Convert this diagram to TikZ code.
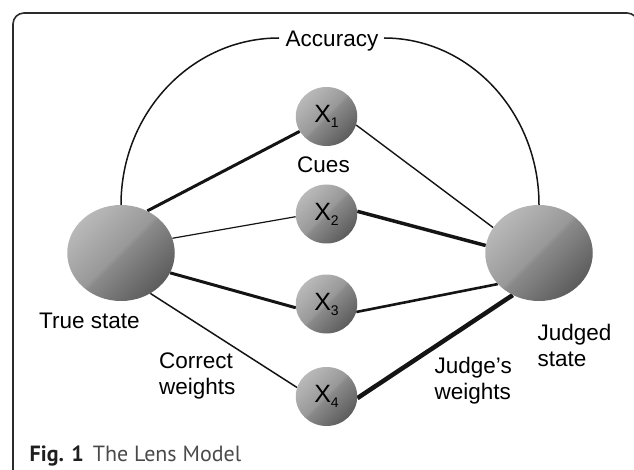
\documentclass[tikz,border=0pt]{standalone}
\usepackage{fontspec}
\setmainfont{Liberation Sans}
\newfontfamily\capfont{PT Sans}
\usetikzlibrary{shapes.geometric}
\definecolor{sA}{HTML}{B9B9B9}
\definecolor{sB}{HTML}{989898}
\definecolor{sC}{HTML}{8A8A8A}
\definecolor{sD}{HTML}{5C5C5C}
\definecolor{framecol}{HTML}{2B2B2B}
\definecolor{capgray}{HTML}{4A4A4A}
\pgfdeclarehorizontalshading{sphereshade}{100bp}{color(0bp)=(sA); color(25bp)=(sA); color(49bp)=(sB); color(51bp)=(sC); color(75bp)=(sD); color(100bp)=(sD)}
\pgfdeclarelayer{bg}
\pgfsetlayers{bg,main}
\newcommand{\sbs}[1]{\raisebox{-5pt}{\fontsize{14}{14}\selectfont #1}}
\tikzset{
  bigball/.style={ellipse, minimum width=107.5pt, minimum height=96pt, inner sep=0pt, shading=sphereshade, shading angle=-45},
  cueball/.style={ellipse, minimum width=61.5pt, minimum height=59pt, inner sep=0pt, shading=sphereshade, shading angle=-45, font=\fontsize{25}{25}\selectfont},
  lbl/.style={font=\fontsize{22.5}{26}\selectfont, inner sep=0pt},
  edgeline/.style={draw=black!92},
}
\begin{document}
\begin{tikzpicture}[x=1pt,y=-1pt]
\useasboundingbox (0,0) rectangle (634,470);
\clip (0,0) rectangle (634,470);
% frame
\draw[framecol, line width=1.6pt, rounded corners=11pt] (13,490) -- (13,13) -- (638,13) -- (638,490);
% nodes
\node[bigball] (ts) at (121,253) {};
\node[bigball] (js) at (539,253) {};
\node[cueball] (x1) at (326.5,116.5) {X\sbs{1}};
\node[cueball] (x2) at (326.5,214) {X\sbs{2}};
\node[cueball] (x3) at (326.5,304) {X\sbs{3}};
\node[cueball] (x4) at (326.5,396.5) {X\sbs{4}};
% labels
\node[lbl, anchor=base] (acc) at (332,46.5) {Accuracy};
\node[lbl, anchor=base] (cues) at (323.5,172.5) {Cues};
\node[lbl, anchor=base west] (tsl) at (39,328.3) {True state};
\node[lbl, anchor=base west] (cw1) at (159,368) {Correct};
\node[lbl, anchor=base west] (cw2) at (159,394) {weights};
\node[lbl, anchor=base west] (jw1) at (434.5,373) {Judge’s};
\node[lbl, anchor=base west] (jw2) at (434.5,399) {weights};
\node[lbl, anchor=base west] (jd1) at (537.5,340) {Judged};
\node[lbl, anchor=base west] (jd2) at (537.5,366) {state};
% caption
\node[inner sep=0pt, anchor=base west, font=\capfont\fontsize{22}{26}\selectfont] (cap) at (29.5,461)
  {\textcolor{black!88}{\textbf{Fig. 1}}\hspace{9pt}\textcolor{capgray}{The Lens Model}};
% accuracy arc
\coordinate (accL) at (279,38);
\coordinate (accR) at (384,38);
\begin{pgfonlayer}{bg}
\draw[edgeline, line width=1.5pt] (ts.north) .. controls (121,112.8) and (191.7,38) .. (accL);
\draw[edgeline, line width=1.5pt] (accR) .. controls (469.6,38) and (539,112.8) .. (js.north);
% cue lines
\draw[edgeline, line width=3pt]   (ts.58)   -- (x1.209.6);
\draw[edgeline, line width=1.2pt] (ts.16.4) -- (x2.185.6);
\draw[edgeline, line width=3pt]   (ts.-22.4) -- (x3.187.5);
\draw[edgeline, line width=1.5pt] (ts.-54.6) -- (x4.163);
\draw[edgeline, line width=1.4pt] (x1.-16.6) -- (js.151.7);
\draw[edgeline, line width=3.5pt] (x2.5.4)   -- (js.172.6);
\draw[edgeline, line width=2.6pt] (x3.-15)   -- (js.217.1);
\draw[edgeline, line width=4.5pt] (x4.-3.4)  -- (js.238.9);
\end{pgfonlayer}
\end{tikzpicture}
\end{document}
